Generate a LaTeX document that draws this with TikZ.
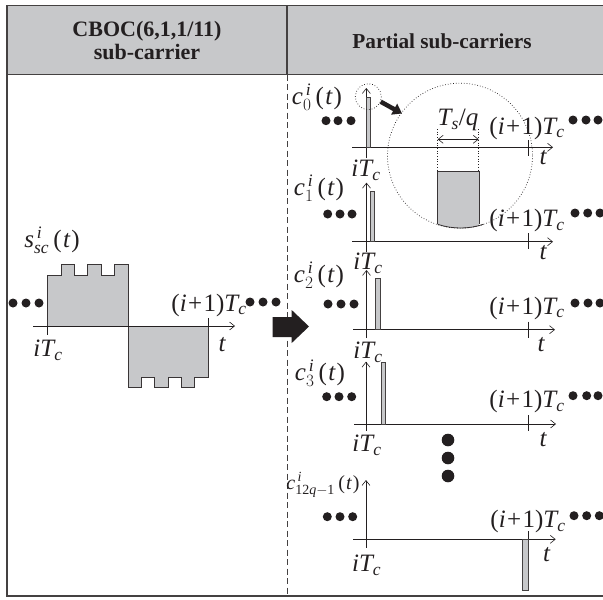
\documentclass[tikz,border=0pt]{standalone}
\usepackage{amsmath}
\usepackage{fontspec}
\setmainfont{Liberation Serif}
\usetikzlibrary{arrows.meta,calc}
\definecolor{panelgray}{RGB}{199,200,202}
\definecolor{inkc}{RGB}{35,31,32}
\newcommand\ii[1]{\textit{#1}}
\newcommand\siglabel[2]{$\ii{#1}^{\,\ii{i}}_{#2}\mkern3mu\text{(}\mkern1mu\ii{t}\mkern1mu\text{)}$}
\newcommand\iTc{$\ii{iT}_{\ii{c}}$}
\newcommand\nextT{$\text{(}\ii{i}\mkern1mu\text{+}\mkern1mu\text{1)}\ii{T}_{\ii{c}}$}
\newcommand\tlab{$\ii{t}$}
\tikzset{
  x=1pt,y=-1pt,
  every node/.style={inner sep=0pt,outer sep=0pt,text=inkc,font=\fontsize{25}{27}\selectfont},
  frameline/.style={draw=inkc!85,line width=1.1pt},
  axisline/.style={draw=inkc,line width=0.8pt,-{Straight Barb[length=5pt,width=8pt,line width=0.6pt]}},
  tickline/.style={draw=inkc,line width=0.8pt},
  barbox/.style={fill=panelgray,draw=inkc!85,line width=0.8pt},
  wave/.style={fill=panelgray,draw=inkc!90,line width=0.8pt},
  dot/.style={fill=inkc,draw=none},
  lens/.style={draw=inkc,line width=0.7pt,dotted},
  head/.style={font=\fontsize{21.3}{24}\selectfont\bfseries,align=center},
}
\newcommand\threedots[4]{%
  \fill[dot] (#1,#4) circle (4.5);
  \fill[dot] (#2,#4) circle (4.5);
  \fill[dot] (#3,#4) circle (4.5);
}
\begin{document}
\begin{tikzpicture}
\useasboundingbox (0,0) rectangle (603,600);
\fill[white] (0,0) rectangle (603,600);
% table
\fill[panelgray] (7,5.5) rectangle (603,74.5);
\draw[frameline] (603,5.5) -- (7,5.5) -- (7,596) -- (603,596);
\draw[frameline] (7,74.5) -- (603,74.5);
\draw[frameline] (287,5.5) -- (287,74.5);
\draw[draw=inkc!85,line width=0.8pt,dash pattern=on 6pt off 3.5pt] (287,74.5) -- (287,596);
\node[head,font=\fontsize{22}{24}\selectfont\bfseries] (h1) at (147,40) {CBOC(6,1,1/11)\\[-1pt]sub-carrier};
\node[head] (h2) at (442,41) {Partial sub-carriers};
% left wave
\draw[wave] (47.5,326) -- (47.5,275.7) -- (61,275.7) -- (61,264.7) -- (74,264.7) -- (74,275.7) -- (87.7,275.7) -- (87.7,264.7) -- (101,264.7) -- (101,275.7) -- (114,275.7) -- (114,264.7) -- (128,264.7) -- (128,326) -- cycle;
\draw[wave] (128,326) -- (128,387.7) -- (141.7,387.7) -- (141.7,377) -- (154,377) -- (154,387.7) -- (168,387.7) -- (168,377) -- (181,377) -- (181,387.7) -- (194.7,387.7) -- (194.7,377) -- (208,377) -- (208,326) -- cycle;
\draw[axisline] (33,326) -- (235,326);
\draw[tickline] (47.5,326) -- (47.5,335);
\draw[tickline] (208,318) -- (208,326);
\threedots{13}{26}{39}{303}
\threedots{250}{263}{276}{302}
\node (sl) at (52,240) {\siglabel{s}{\ii{sc}}};
\node (il) at (48,350) {\iTc};
\node (nl) at (209,305) {\nextT};
\node (tl) at (222,345) {\tlab};
% big arrow
\fill[inkc] (272.7,317) -- (291.7,317) -- (291.7,310) -- (309,326.5) -- (291.7,343) -- (291.7,337) -- (272.7,337) -- cycle;
% c0
\begin{scope}
\clip (460,155.7) circle (72.5);
\fill[panelgray] (437.7,171.7) rectangle (479,232);
\end{scope}
\draw[wave,fill=none] (437.7,224.3) -- (437.7,171.7) -- (479,171.7) -- (479,224.3);
\draw[line width=0.8pt,draw=inkc!90] (437.7,224.3) arc[start angle=-(180-71.6),end angle=-(180-108.4),radius=72.5,x radius=72.5,y radius=-72.5];
\draw[axisline] (352,147.3) -- (553,147.3);
\draw[axisline] (366.3,158) -- (366.3,88);
\draw[barbox] (366.3,147.3) rectangle (370.3,97.7);
\draw[tickline] (528.3,140) -- (528.3,156);
\draw[lens] (368.3,96.7) circle (13);
\draw[lens] (460,155.7) circle (72.5);
\draw[inkc,line width=4.5pt,-{Triangle[length=9pt,width=12pt]}] (380.7,101.7) -- (402,113.5);
\draw[lens] (437.7,129) -- (437.7,171.7);
\draw[lens] (478.7,129) -- (478.7,171.7);
\draw[draw=inkc,line width=0.7pt,{Straight Barb[length=5pt,width=8pt,line width=0.6pt]}-{Straight Barb[length=5pt,width=8pt,line width=0.6pt]}] (437.7,139.3) -- (478.7,139.3);
\node (ts) at (458,120) {$\ii{T}_{\ii{s}}\text{/}\ii{q}$};
\node (c0) at (317,97) {\siglabel{c}{0}};
\node (i0) at (366,170) {\iTc};
\node (n0) at (527,128) {\nextT};
\node (t0) at (543,158) {\tlab};
\threedots{326}{338}{351}{120.7}
\threedots{573}{586}{598}{120}
% c1
\draw[axisline] (352,241.7) -- (553,241.7);
\draw[axisline] (366.5,251.7) -- (366.5,182.7);
\draw[barbox] (370.3,241.7) rectangle (374.7,191);
\draw[tickline] (528.3,233) -- (528.3,249);
\node (c1) at (319,188) {\siglabel{c}{1}};
\node (i1) at (368,263) {\iTc};
\node (n1) at (527,220.7) {\nextT};
\node (t1) at (543,253) {\tlab};
\threedots{327.7}{340}{352}{214}
\threedots{575}{587.7}{600}{213}
% c2
\draw[axisline] (353,329.7) -- (555,329.7);
\draw[axisline] (366.5,338) -- (366.5,270);
\draw[barbox] (375.7,329.7) rectangle (380,278.3);
\draw[tickline] (528.3,321.7) -- (528.3,338);
\node (c2) at (319,275) {\siglabel{c}{2}};
\node (i2) at (368,352) {\iTc};
\node (n2) at (527,308) {\nextT};
\node (t2) at (541,345) {\tlab};
\threedots{328}{341}{354}{304}
\threedots{575}{588}{600}{303}
% c3
\draw[axisline] (354,424) -- (556,424);
\draw[axisline] (366,430.7) -- (366,361.7);
\draw[barbox] (381,424) rectangle (385.7,362.7);
\draw[tickline] (528.3,415) -- (528.3,431);
\node (c3) at (320,373) {\siglabel{c}{3}};
\node (i3) at (367,445) {\iTc};
\node (n3) at (527,401.7) {\nextT};
\node (t3) at (543,440) {\tlab};
\threedots{326.7}{339}{351.7}{396.7}
\threedots{573}{586.7}{598}{395.7}
% vertical dots
\fill[dot] (448,440) circle (6.3);
\fill[dot] (448,458) circle (6.3);
\fill[dot] (448,476) circle (6.3);
% c12q-1
\draw[axisline] (353,539.3) -- (555.7,539.3);
\draw[axisline] (366,547.7) -- (366,480);
\draw[barbox] (522.7,539.3) rectangle (528.3,590);
\draw[tickline] (528.3,531) -- (528.3,539.3);
\node[font=\fontsize{20}{22}\selectfont] (cq) at (323,485) {\siglabel{c}{\text{12}\ii{q}-\text{1}}};
\node (iq) at (366.7,565) {\iTc};
\node (nq) at (528,521.7) {\nextT};
\node (tq) at (546.7,555) {\tlab};
\threedots{327.3}{340}{352.7}{516.7}
\threedots{574}{586.7}{599.3}{515.7}
\end{tikzpicture}
\end{document}
